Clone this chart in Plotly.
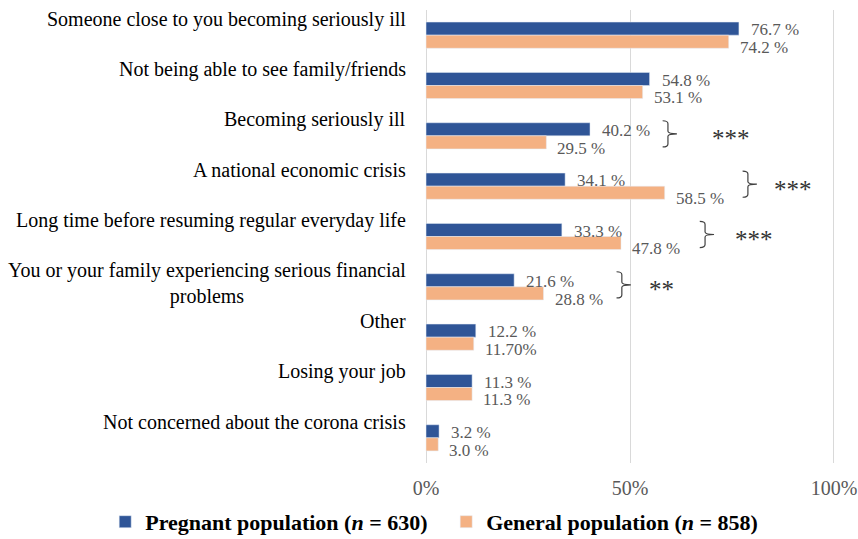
import plotly.graph_objects as go

categories = [
    "Someone close to you becoming seriously ill",
    "Not being able to see family/friends",
    "Becoming seriously ill",
    "A national economic crisis",
    "Long time before resuming regular everyday life",
    "You or your family experiencing serious financial<br>problems",
    "Other",
    "Losing your job",
    "Not concerned about the corona crisis",
]
pregnant = [76.7, 54.8, 40.2, 34.1, 33.3, 21.6, 12.2, 11.3, 3.2]
general = [74.2, 53.1, 29.5, 58.5, 47.8, 28.8, 11.7, 11.3, 3.0]
pregnant_labels = ["76.7 %", "54.8 %", "40.2 %", "34.1 %", "33.3 %", "21.6 %", "12.2 %", "11.3 %", "3.2 %"]
general_labels = ["74.2 %", "53.1 %", "29.5 %", "58.5 %", "47.8 %", "28.8 %", "11.70%", "11.3 %", "3.0 %"]
significance = ["", "", "***", "***", "***", "**", "", "", ""]
x_ticks = [0, 50, 100]
x_ticktext = ["0%", "50%", "100%"]

# style / placement config (bracket line x in % units)
bracket_x = {2: 59.3, 3: 78.9, 4: 68.4, 5: 48.0}
star_x = {2: 69.6, 3: 84.8, 4: 75.2, 5: 54.2}

BLUE = "#2F5597"
ORANGE = "#F4B183"
GRAY = "#595959"
FONT = "Liberation Serif, Times New Roman, serif"

rows = list(range(len(categories)))

fig = go.Figure()
fig.add_trace(go.Bar(
    y=rows, x=pregnant, orientation="h", marker_color=BLUE,
    name="<b>Pregnant population (<i>n</i> = 630)</b>",
))
fig.add_trace(go.Bar(
    y=rows, x=general, orientation="h", marker_color=ORANGE,
    name="<b>General population (<i>n</i> = 858)</b>",
))

ann = []
off = 0.129
for r in rows:
    cat = categories[r]
    multi = "<br>" in cat
    ann.append(dict(
        xref="paper", yref="y", x=0, y=r, xanchor="right", yanchor="middle",
        xshift=-17, yshift=3 if multi else 16, text=cat, showarrow=False,
        align="center" if multi else "right",
        font=dict(family=FONT, size=20, color="#000000"),
    ))
    ann.append(dict(
        xref="x", yref="y", x=pregnant[r], y=r - off, xanchor="left", yanchor="middle",
        xshift=10, yshift=-1, text=pregnant_labels[r], showarrow=False,
        font=dict(family=FONT, size=17, color=GRAY),
    ))
    ann.append(dict(
        xref="x", yref="y", x=general[r], y=r + off, xanchor="left", yanchor="middle",
        xshift=9, yshift=-6, text=general_labels[r], showarrow=False,
        font=dict(family=FONT, size=17, color=GRAY),
    ))

shapes = []
for r, s in enumerate(significance):
    if not s:
        continue
    bx = bracket_x[r]
    top = r - 0.3
    bot = r + 0.22
    mid = (top + bot) / 2
    path = (
        f"M {bx-1.3},{top} Q {bx},{top} {bx},{top+0.06} "
        f"L {bx},{mid-0.05} Q {bx},{mid} {bx+2.2},{mid} "
        f"Q {bx},{mid} {bx},{mid+0.05} "
        f"L {bx},{bot-0.06} Q {bx},{bot} {bx-1.3},{bot}"
    )
    shapes.append(dict(type="path", xref="x", yref="y", path=path,
                       line=dict(color="#404040", width=1.2)))
    ann.append(dict(
        xref="x", yref="y", x=star_x[r], y=mid, xanchor="left", yanchor="middle",
        yshift=-5, text=s, showarrow=False,
        font=dict(family=FONT, size=25, color="#333333"),
    ))

fig.update_layout(
    width=858, height=539,
    margin=dict(l=425, r=23, t=10, b=76, autoexpand=False),
    paper_bgcolor="white", plot_bgcolor="white",
    barmode="group", bargap=0.48, bargroupgap=0,
    annotations=ann, shapes=shapes,
    font=dict(family=FONT, color=GRAY),
    legend=dict(
        orientation="h", xref="paper", yref="paper",
        x=-0.78, y=-0.13, xanchor="left", yanchor="middle",
        bgcolor="rgba(0,0,0,0)",
        font=dict(family=FONT, size=22, color="#000000"),
        itemwidth=30, traceorder="normal",
        entrywidth=296, entrywidthmode="pixels",
    ),
    xaxis=dict(
        range=[-0.25, 100.25], tickvals=x_ticks, ticktext=x_ticktext,
        showgrid=True, gridcolor="#D9D9D9", gridwidth=1, zeroline=False,
        showline=False, ticks="", ticklabelstandoff=11,
        tickfont=dict(family=FONT, size=20, color=GRAY),
        fixedrange=True,
    ),
    yaxis=dict(
        range=[8.5, -0.5], showticklabels=False, showgrid=False,
        zeroline=False, showline=False, ticks="",
    ),
)

fig.write_html("out.html")
